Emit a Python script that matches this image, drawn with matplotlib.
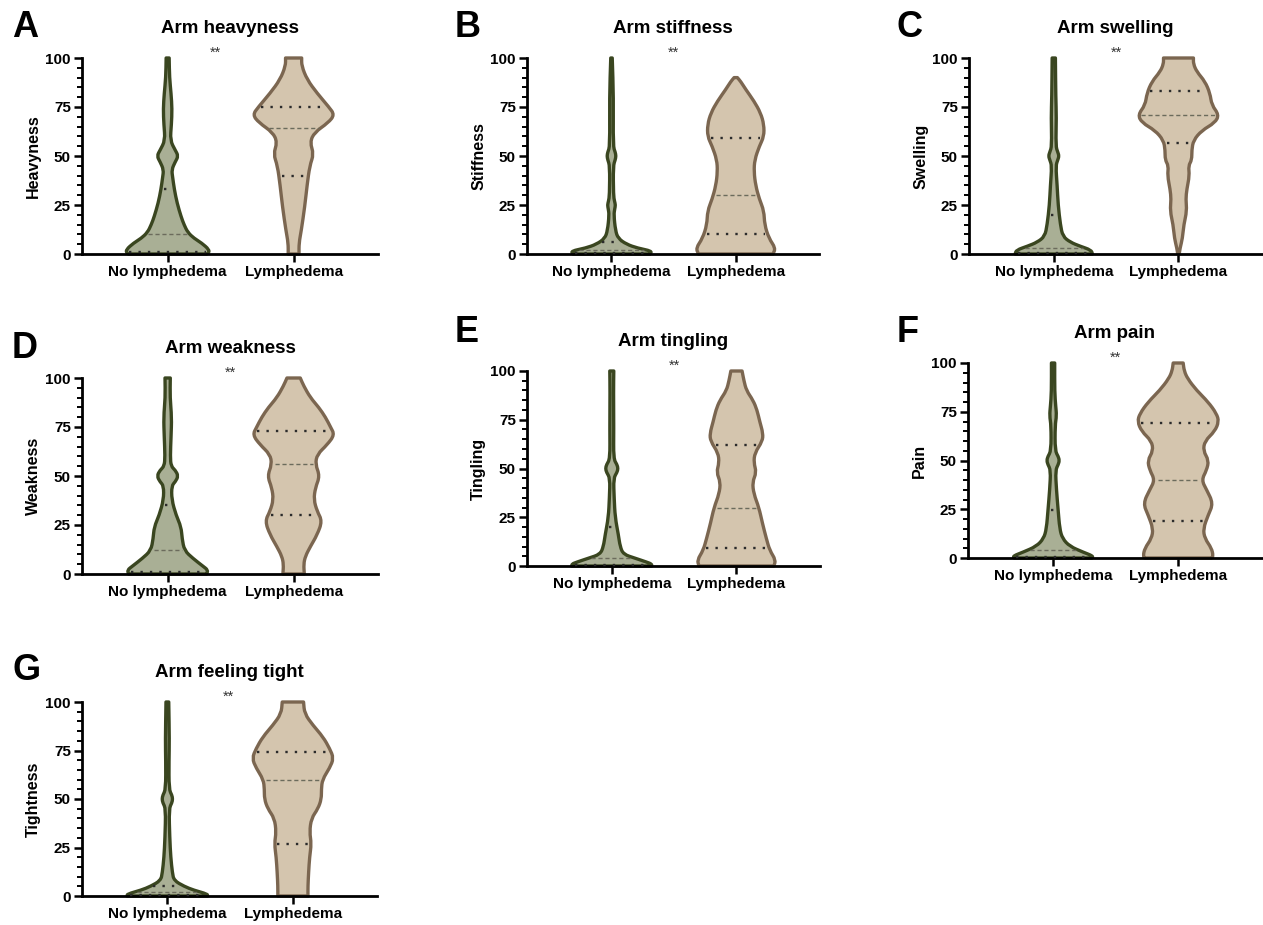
import numpy as np
import matplotlib
matplotlib.use("Agg")
import matplotlib.pyplot as plt
from matplotlib.path import Path
from matplotlib.patches import PathPatch

plt.rcParams["font.family"] = ["Liberation Sans", "DejaVu Sans"]
plt.rcParams["font.weight"] = "bold"

GROUPS = ["No lymphedema", "Lymphedema"]
TITLES = ["Arm heavyness", "Arm stiffness", "Arm swelling", "Arm weakness",
          "Arm tingling", "Arm pain", "Arm feeling tight"]
YLABELS = ["Heavyness", "Stiffness", "Swelling", "Weakness", "Tingling", "Pain", "Tightness"]
LETTERS = ["A", "B", "C", "D", "E", "F", "G"]
SIG = ["**"] * 7
SIG_X = [0.38, 0.5, 0.5, 0.5, 0.5, 0.5, 0.49]

# violin outlines: (score, half width in category units)
HEAVY_NO = [(0, 0.31), (0.5, 0.325), (2.2, 0.33), (5.6, 0.27), (8, 0.21), (11, 0.16), (15, 0.13),
            (19, 0.107), (26, 0.075), (33, 0.053), (39, 0.04), (43, 0.032), (47, 0.06), (50, 0.085),
            (53, 0.06), (58, 0.02), (66, 0.03), (74, 0.035), (82, 0.027), (90, 0.015), (100, 0.012)]
HEAVY_LY = [(0, 0.043), (5.6, 0.043), (12, 0.061), (24, 0.088), (35, 0.107), (45, 0.128),
            (51, 0.16), (57, 0.13), (62, 0.165), (67, 0.275), (71, 0.325), (75, 0.28), (82, 0.187),
            (89, 0.107), (96, 0.064), (100, 0.064)]
STIFF_NO = [(0, 0.31), (1.5, 0.325), (3, 0.21), (5, 0.12), (8, 0.053), (12, 0.032), (20, 0.019),
            (23, 0.026), (25, 0.032), (27, 0.024), (30, 0.016), (45, 0.014), (48, 0.03), (50, 0.036),
            (52, 0.03), (55, 0.013), (80, 0.016), (100, 0.006)]
STIFF_LY = [(0, 0.3), (3, 0.32), (8, 0.267), (15, 0.232), (22, 0.227), (28, 0.19), (35, 0.16),
            (42, 0.147), (48, 0.152), (55, 0.19), (60, 0.227), (66, 0.227), (72, 0.2), (78, 0.147),
            (84, 0.08), (88, 0.04), (90, 0.013)]
SWELL_NO = [(0, 0.31), (2, 0.3), (4, 0.21), (6, 0.133), (9, 0.072), (15, 0.053), (25, 0.035),
            (35, 0.027), (45, 0.016), (48, 0.032), (50, 0.042), (52, 0.032), (55, 0.016), (70, 0.021),
            (80, 0.016), (100, 0.013)]
SWELL_LY = [(0, 0.006), (3, 0.013), (8, 0.032), (15, 0.043), (22, 0.067), (28, 0.059), (33, 0.067),
            (40, 0.088), (45, 0.08), (48, 0.107), (53, 0.107), (58, 0.12), (63, 0.187), (67, 0.293),
            (71, 0.325), (76, 0.267), (82, 0.253), (88, 0.213), (93, 0.147), (97, 0.12), (100, 0.12)]
WEAK_NO = [(0, 0.31), (2, 0.32), (4, 0.28), (8, 0.2), (12, 0.133), (18, 0.115), (24, 0.107),
           (30, 0.067), (38, 0.032), (45, 0.032), (47, 0.06), (50, 0.085), (53, 0.06), (55, 0.027),
           (60, 0.021), (70, 0.027), (80, 0.032), (90, 0.019), (100, 0.021)]
WEAK_LY = [(0, 0.085), (5, 0.08), (9, 0.093), (14, 0.133), (20, 0.187), (27, 0.227), (32, 0.187),
           (38, 0.16), (44, 0.173), (50, 0.208), (56, 0.173), (61, 0.187), (66, 0.267), (71, 0.325),
           (75, 0.293), (80, 0.253), (85, 0.2), (90, 0.133), (96, 0.08), (100, 0.053)]
TINGLE_NO = [(0, 0.32), (1, 0.32), (2, 0.28), (4, 0.187), (6, 0.093), (10, 0.067), (16, 0.053),
             (25, 0.027), (35, 0.019), (45, 0.014), (48, 0.042), (50, 0.05), (52, 0.042), (55, 0.014),
             (70, 0.016), (90, 0.014), (100, 0.016)]
TINGLE_LY = [(0, 0.3), (3, 0.315), (8, 0.267), (14, 0.24), (22, 0.208), (30, 0.18), (37, 0.139),
             (43, 0.128), (48, 0.16), (53, 0.139), (58, 0.147), (64, 0.208), (68, 0.213), (74, 0.187),
             (80, 0.165), (85, 0.133), (90, 0.08), (95, 0.06), (100, 0.045)]
PAIN_NO = [(0, 0.31), (1, 0.32), (3, 0.24), (6, 0.133), (10, 0.075), (15, 0.053), (25, 0.04),
           (35, 0.027), (45, 0.019), (48, 0.042), (50, 0.05), (52, 0.042), (55, 0.016), (68, 0.016),
           (73, 0.028), (78, 0.021), (85, 0.013), (100, 0.013)]
PAIN_LY = [(0, 0.267), (1, 0.28), (5, 0.267), (10, 0.213), (15, 0.2), (22, 0.24), (28, 0.28),
           (35, 0.227), (40, 0.187), (45, 0.227), (50, 0.245), (55, 0.2), (60, 0.213), (65, 0.293),
           (70, 0.325), (74, 0.307), (80, 0.24), (86, 0.147), (92, 0.075), (96, 0.048), (100, 0.04)]
TIGHT_NO = [(0, 0.32), (1, 0.32), (3, 0.21), (5, 0.133), (8, 0.053), (12, 0.04), (20, 0.027),
            (30, 0.019), (45, 0.013), (48, 0.036), (50, 0.042), (52, 0.036), (55, 0.013), (70, 0.013),
            (80, 0.016), (100, 0.011)]
TIGHT_LY = [(0, 0.12), (5, 0.12), (12, 0.125), (20, 0.133), (27, 0.147), (33, 0.133), (40, 0.147),
            (45, 0.2), (50, 0.227), (55, 0.227), (60, 0.235), (66, 0.293), (71, 0.325), (76, 0.293),
            (82, 0.24), (88, 0.16), (94, 0.093), (100, 0.085)]

PROFILES = [(HEAVY_NO, HEAVY_LY), (STIFF_NO, STIFF_LY), (SWELL_NO, SWELL_LY), (WEAK_NO, WEAK_LY),
            (TINGLE_NO, TINGLE_LY), (PAIN_NO, PAIN_LY), (TIGHT_NO, TIGHT_LY)]

# quartiles (q1, median, q3) per group
QUART_NO = [(1, 10, 33), (0.5, 2, 6), (0.5, 3, 20), (1, 12, 35), (0.5, 4, 20), (0.5, 4, 24.4), (0.5, 2, 5)]
QUART_LY = [(40, 64.5, 75), (10, 30, 59), (56.5, 71, 83), (30, 56, 73), (9, 30, 62), (19, 40, 69), (27, 60, 74)]

FILL = ["#a9af95", "#d4c5ae"]
EDGE = ["#3a4620", "#7b6650"]

W, H = 1263, 925
# axes boxes in pixels: left, right, top, bottom
BOXES = [(82, 378, 58, 254), (527, 819, 58, 254), (969, 1262, 58, 254),
         (82, 378, 378, 574), (527, 820, 371, 566), (968, 1262, 363, 558),
         (82, 377, 702, 896)]
LETTER_POS = [(12, 10), (455, 10), (897, 10), (12, 331), (455, 315), (897, 315), (12, 653)]

fig = plt.figure(figsize=(W / 100, H / 100), dpi=100)


def half_width(prof, y):
    ys, ws = zip(*prof)
    return np.interp(y, ys, ws)


def rounded(pts):
    # corner-rounded path through the outline points (quadratic pieces)
    verts, codes = [pts[0]], [Path.MOVETO]
    if len(pts) > 2:
        verts.append((pts[0] + pts[1]) / 2); codes.append(Path.LINETO)
        for k in range(1, len(pts) - 1):
            verts += [pts[k], (pts[k] + pts[k + 1]) / 2]
            codes += [Path.CURVE3, Path.CURVE3]
    verts.append(pts[-1]); codes.append(Path.LINETO)
    return verts, codes


def violin_path(prof, g):
    ys = np.array([p[0] for p in prof], float)
    ws = np.array([p[1] for p in prof], float)
    right = np.column_stack([g + ws, ys])
    left = np.column_stack([g - ws, ys])[::-1]
    v1, c1 = rounded(right)
    v2, c2 = rounded(left)
    c2[0] = Path.LINETO
    verts = v1 + v2 + [v1[0]]
    codes = c1 + c2 + [Path.CLOSEPOLY]
    return Path(verts, codes)


for i in range(7):
    l, r, t, b = BOXES[i]
    ax = fig.add_axes([l / W, 1 - b / H, (r - l) / W, (b - t) / H])
    for g in range(2):
        prof = PROFILES[i][g]
        patch = PathPatch(violin_path(prof, g), facecolor=FILL[g], edgecolor=EDGE[g], lw=2.4,
                          joinstyle="round", clip_on=False, zorder=2)
        ax.add_patch(patch)
        q1, med, q3 = (QUART_NO if g == 0 else QUART_LY)[i]
        for val, style, col, lw in [(q1, (0, (1, 3)), "#2b2b2b", 1.7),
                                    (q3, (0, (1, 3)), "#2b2b2b", 1.7),
                                    (med, (0, (3, 2)), "#6b6b5c", 1.0)]:
            hw = max(half_width(prof, val) - 0.022, 0.004)
            ax.plot([g - hw, g + hw], [val, val], ls=style, color=col, lw=lw,
                    solid_capstyle="butt", zorder=3, clip_on=False)

    ax.set_xlim(-0.68, 1.67)
    ax.set_ylim(0, 100)
    ax.set_xticks([0, 1])
    ax.set_xticklabels(GROUPS, fontsize=11, fontweight="bold")
    ax.set_yticks([0, 25, 50, 75, 100])
    ax.set_yticklabels(["0", "25", "50", "75", "100"], fontsize=11, fontweight="bold")
    ax.set_yticks(np.arange(0, 101, 5), minor=True)
    ax.tick_params(axis="both", which="major", direction="out", length=6, width=1.8, pad=2)
    ax.tick_params(axis="y", which="minor", direction="out", length=3.5, width=1.4)
    for s in ["top", "right"]:
        ax.spines[s].set_visible(False)
    for s in ["left", "bottom"]:
        ax.spines[s].set_linewidth(2)
    ax.set_ylabel(YLABELS[i], fontsize=11.5, fontweight="bold", labelpad=3)
    ax.text(0.5, 1.15, TITLES[i], transform=ax.transAxes, ha="center", va="center",
            fontsize=13.5, fontweight="bold")
    ax.text(SIG_X[i], 102.5, SIG[i], ha="center", va="center", fontsize=10.5,
            fontweight="normal", color="#333333", clip_on=False)

    lx, ly = LETTER_POS[i]
    fig.text(lx / W, 1 - ly / H, LETTERS[i], ha="left", va="top", fontsize=26,
             fontweight="bold")

fig.savefig("out.png", dpi=100)
